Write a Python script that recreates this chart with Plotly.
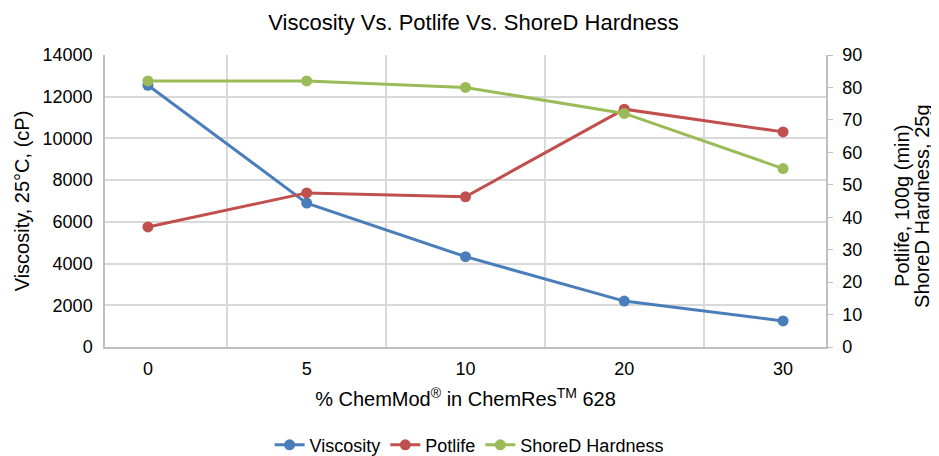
import plotly.graph_objects as go

categories = ["0", "5", "10", "20", "30"]
viscosity = [12550, 6900, 4330, 2200, 1250]
potlife = [37, 47.5, 46.3, 73.3, 66.3]
shored = [82, 82, 80, 72, 55]
right_title_lines = ["Potlife, 100g (min)", "ShoreD Hardness, 25g"]

blue = "#4A7EBB"
red = "#C0504D"
green = "#9BBB59"
font = "Liberation Sans, Arial, sans-serif"

fig = go.Figure()
fig.add_trace(go.Scatter(x=categories, y=viscosity, name="Viscosity", mode="lines+markers",
                         line=dict(color=blue, width=3), marker=dict(size=11, color=blue)))
fig.add_trace(go.Scatter(x=categories, y=potlife, name="Potlife", mode="lines+markers", yaxis="y2",
                         line=dict(color=red, width=3), marker=dict(size=11, color=red)))
fig.add_trace(go.Scatter(x=categories, y=shored, name="ShoreD Hardness", mode="lines+markers", yaxis="y2",
                         line=dict(color=green, width=3), marker=dict(size=11, color=green)))

for xp, txt in zip([1.1054, 1.1331], right_title_lines):
    fig.add_annotation(text=txt, xref="paper", yref="paper", x=xp, y=0.483,
                       xanchor="center", yanchor="middle", textangle=-90, showarrow=False,
                       font=dict(size=20, color="#000000"))

fig.update_layout(
    width=931, height=448,
    margin=dict(l=97, r=113, t=47, b=109, autoexpand=False),
    paper_bgcolor="white", plot_bgcolor="white",
    font=dict(family=font, size=18, color="#000000"),
    title=dict(text="Viscosity Vs. Potlife Vs. ShoreD Hardness", x=0.5, xanchor="center",
               y=0.969, yanchor="middle", font=dict(size=22, color="#000000")),
    showlegend=True,
    legend=dict(orientation="h", x=0.505, xanchor="center", y=-0.336, yanchor="middle",
                font=dict(size=18)),
    xaxis=dict(type="category", tickson="boundaries", showgrid=True, gridcolor="#D9D9D9", gridwidth=1.5,
               showline=True, linecolor="#BFBFBF", linewidth=1.5, ticks="", ticklen=0,
               ticklabelstandoff=5,
               title=dict(text="% ChemMod<sup>®</sup> in ChemRes<sup>TM</sup> 628", font=dict(size=20), standoff=14),
               tickfont=dict(size=18), zeroline=False, automargin=False),
    yaxis=dict(range=[0, 14000], dtick=2000, showgrid=True, gridcolor="#D9D9D9", gridwidth=1.5,
               showline=True, linecolor="#BFBFBF", linewidth=1.5, ticks="", tickformat="d",
               ticklabelstandoff=7,
               title=dict(text="Viscosity, 25°C, (cP)", font=dict(size=20), standoff=8),
               tickfont=dict(size=18), zeroline=False, automargin=False),
    yaxis2=dict(range=[0, 90], dtick=10, overlaying="y", side="right", showgrid=False,
                showline=True, linecolor="#BFBFBF", linewidth=1.5, ticks="outside", ticklen=5,
                tickcolor="#BFBFBF", ticklabelstandoff=6,
                tickfont=dict(size=18), zeroline=False, automargin=False),
)

fig.write_html("out.html")
